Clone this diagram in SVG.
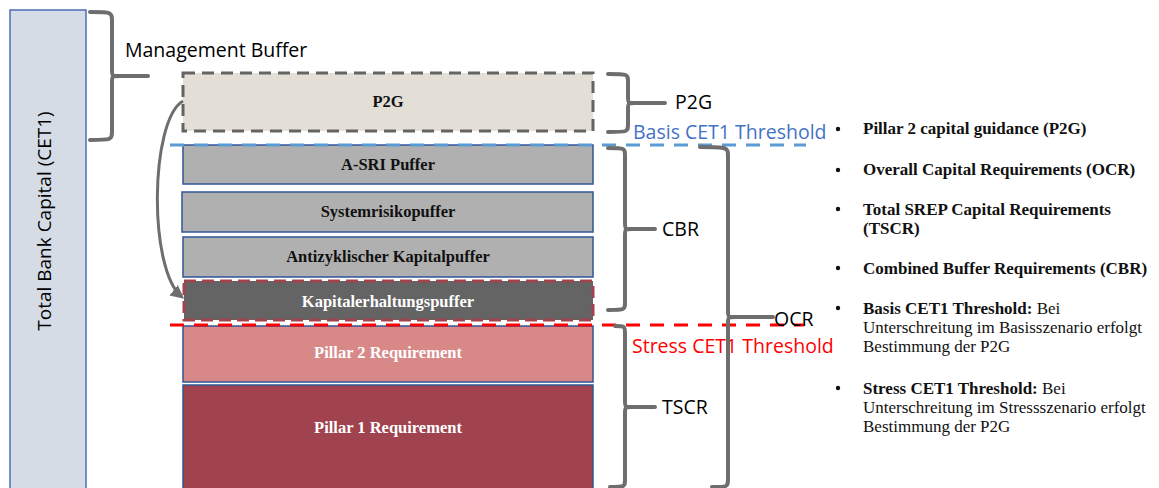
<svg xmlns="http://www.w3.org/2000/svg" width="1159" height="488" viewBox="0 0 1159 488">
<defs>
<style>
.brace{fill:none;stroke:#6e6e6e;stroke-width:4;stroke-linejoin:round;stroke-linecap:round}
.lbl{font-family:"Open Sans","Liberation Sans",sans-serif;font-size:19.5px;fill:#000}
.box{stroke:#2f5597;stroke-width:1.5}
.bt{font-family:"Liberation Serif",serif;font-weight:bold;font-size:16.5px;text-anchor:middle}
.li{font-family:"Liberation Serif",serif;font-size:17px;fill:#111}
.li .b{font-weight:bold}
</style>
<marker id="ah" viewBox="0 0 10 10" refX="8" refY="5" markerWidth="4.5" markerHeight="4.5" orient="auto">
<path d="M0,0 L10,5 L0,10 z" fill="#6e6e6e"/>
</marker>
</defs>
<rect width="1159" height="488" fill="#fff"/>

<g id="total-capital">
<rect x="10" y="10" width="76" height="482" fill="#d6dce5" stroke="#4a6eb0" stroke-width="1.5"/>
<text class="lbl" font-size="19" transform="translate(51,221) rotate(-90)" text-anchor="middle" style="font-size:19px">Total Bank Capital (CET1)</text>
</g>

<g id="p2g-box">
<rect x="183" y="73" width="410" height="58" fill="#e3dfd6" stroke="#646464" stroke-width="3" stroke-dasharray="12,7"/>
<text class="bt" x="388" y="107" fill="#111">P2G</text>
</g>

<g id="asri">
<rect class="box" x="183" y="145" width="410" height="39" fill="#b0b0b0"/>
<text class="bt" x="388" y="170" fill="#111">A-SRI Puffer</text>
</g>
<g id="systemrisiko">
<rect class="box" x="182" y="192" width="411" height="40" fill="#b0b0b0"/>
<text class="bt" x="388" y="217" fill="#111">Systemrisikopuffer</text>
</g>
<g id="antizyklisch">
<rect class="box" x="183" y="237" width="410" height="40" fill="#b0b0b0"/>
<text class="bt" x="388" y="262" fill="#111">Antizyklischer Kapitalpuffer</text>
</g>
<g id="kapitalerhaltung">
<rect x="184" y="281" width="409" height="39" fill="#646464" stroke="#a0434e" stroke-width="3" stroke-dasharray="12,6"/>
<text class="bt" x="388" y="307" fill="#fff">Kapitalerhaltungspuffer</text>
</g>
<g id="pillar2">
<rect class="box" x="183" y="326" width="410" height="56" fill="#d98888"/>
<text class="bt" x="388" y="358" fill="#fff">Pillar 2 Requirement</text>
</g>
<g id="pillar1">
<rect class="box" x="183" y="385" width="410" height="110" fill="#a0434e"/>
<text class="bt" x="388" y="433" fill="#fff">Pillar 1 Requirement</text>
</g>

<g id="thresholds">
<line x1="170" y1="145" x2="806" y2="145" stroke="#5b9bd5" stroke-width="3" stroke-dasharray="14,10"/>
<line x1="170" y1="325" x2="804" y2="325" stroke="#ff0000" stroke-width="3" stroke-dasharray="14,10"/>
<text class="lbl" x="633" y="139" fill="#4472c4" style="fill:#4472c4">Basis CET1 Threshold</text>
<text class="lbl" x="632" y="353" style="fill:#ff0000">Stress CET1 Threshold</text>
</g>

<g id="connectors">
<path d="M183,101 C150,120 148,270 182,297" fill="none" stroke="#6e6e6e" stroke-width="3" marker-end="url(#ah)"/>
<path class="brace" d="M90,12 C112,12 112,12 112,22 L112,70 C112,76 112,76 120,76 L148,76 M120,76 C112,76 112,76 112,82 L112,130 C112,140 112,140 90,140"/>
<path class="brace" d="M608,74 C628,74 628,74 628,82 L628,97 C628,103 628,103 636,103 L665,103 M636,103 C628,103 628,103 628,109 L628,124 C628,132 628,132 608,132"/>
<path class="brace" d="M608,148 C625,148 625,148 625,156 L625,223 C625,229 625,229 633,229 L655,229 M633,229 C625,229 625,229 625,235 L625,302 C625,310 625,310 608,310"/>
<path class="brace" d="M700,147 C728,147 728,147 728,157 L728,311 C728,317 728,317 736,317 L773,317 M736,317 C728,317 728,317 728,323 L728,478 C728,487 728,487 712,487"/>
<path class="brace" d="M615,326 C625,326 625,326 625,334 L625,401 C625,407 625,407 633,407 L655,407 M633,407 C625,407 625,407 625,413 L625,479 C625,487 625,487 610,487"/>
</g>

<g id="brace-labels">
<text class="lbl" x="125" y="57">Management Buffer</text>
<text class="lbl" x="675" y="109">P2G</text>
<text class="lbl" x="662" y="236">CBR</text>
<text class="lbl" x="774" y="326">OCR</text>
<text class="lbl" x="662" y="414">TSCR</text>
</g>

<g id="legend">
<g fill="#111">
<circle cx="838" cy="129" r="2.2"/>
<circle cx="838" cy="170" r="2.2"/>
<circle cx="838" cy="209" r="2.2"/>
<circle cx="838" cy="268" r="2.2"/>
<circle cx="838" cy="308" r="2.2"/>
<circle cx="838" cy="388" r="2.2"/>
</g>
<text class="li" x="863" y="134"><tspan class="b">Pillar 2 capital guidance (P2G)</tspan></text>
<text class="li" x="863" y="175"><tspan class="b">Overall Capital Requirements (OCR)</tspan></text>
<text class="li" x="863" y="215"><tspan class="b">Total SREP Capital Requirements</tspan></text>
<text class="li" x="863" y="234"><tspan class="b">(TSCR)</tspan></text>
<text class="li" x="863" y="274"><tspan class="b">Combined Buffer Requirements (CBR)</tspan></text>
<text class="li" x="863" y="314"><tspan class="b">Basis CET1 Threshold:</tspan> Bei</text>
<text class="li" x="863" y="333">Unterschreitung im Basisszenario erfolgt</text>
<text class="li" x="863" y="352">Bestimmung der P2G</text>
<text class="li" x="863" y="394"><tspan class="b">Stress CET1 Threshold:</tspan> Bei</text>
<text class="li" x="863" y="413">Unterschreitung im Stressszenario erfolgt</text>
<text class="li" x="863" y="432">Bestimmung der P2G</text>
</g>
</svg>
